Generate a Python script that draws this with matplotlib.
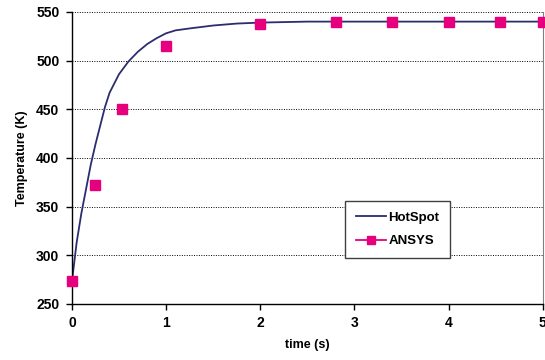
import matplotlib
matplotlib.use('Agg')
import matplotlib.pyplot as plt
from matplotlib.lines import Line2D

# HotSpot transient curve
hs_t = [0, 0.05, 0.1, 0.15, 0.2, 0.25, 0.3, 0.35, 0.4, 0.5, 0.6, 0.7, 0.8, 0.9, 1.0, 1.1, 1.25, 1.5, 1.75, 2.0, 2.5, 3, 4, 5]
hs_T = [273, 313, 343, 368, 393, 414, 433, 452, 467, 486, 499, 509, 517, 523, 528, 531, 533, 536, 538, 539, 540, 540, 540, 540]

# ANSYS points
an_t = [0, 0.25, 0.53, 1.0, 2.0, 2.8, 3.4, 4.0, 4.55, 5.0]
an_T = [273, 372, 450, 515, 538, 540, 540, 540, 540, 540]

plt.rcParams['font.family'] = ['Liberation Sans', 'DejaVu Sans']
plt.rcParams['font.weight'] = 'bold'

fig = plt.figure(figsize=(5.45, 3.6), dpi=100)
ax = fig.add_axes([0.132, 0.156, 0.864, 0.811])

ax.plot(hs_t, hs_T, color='#2b2d6e', lw=1.3, label='HotSpot')
ax.plot(an_t, an_T, color='#e6007e', marker='s', ms=7.5, ls='none',
        label='ANSYS', clip_on=False, zorder=3)

ax.set_xlim(0, 5)
ax.set_ylim(250, 550)
ax.set_xticks(range(6))
ax.set_yticks(range(250, 551, 50))
ax.yaxis.grid(True, ls=(0, (1, 1.5)), color='black', lw=0.7)
ax.set_axisbelow(True)

for s in ['left', 'bottom']:
    ax.spines[s].set_color('black')
    ax.spines[s].set_linewidth(1.0)
ax.spines['right'].set_color('#808080')
ax.spines['top'].set_visible(False)

ax.tick_params(direction='out', length=4, width=1, labelsize=10, pad=5)
for lbl in ax.get_xticklabels() + ax.get_yticklabels():
    lbl.set_fontweight('bold')

ax.set_xlabel('time (s)', fontsize=9, fontweight='bold', labelpad=6)
ax.set_ylabel('Temperature (K)', fontsize=9, fontweight='bold', labelpad=6)

handles = [Line2D([], [], color='#2b2d6e', lw=1.3),
           Line2D([], [], color='#e6007e', lw=1.3, marker='s', ms=6)]
leg = ax.legend(handles, ['HotSpot', 'ANSYS'], loc='lower left',
                bbox_to_anchor=(0.58, 0.158), borderaxespad=0, fontsize=9.5,
                fancybox=False, framealpha=1, edgecolor='#404040', borderpad=0.8,
                labelspacing=0.85, handlelength=2.3, handletextpad=0.2)
leg.get_frame().set_linewidth(1.0)
for t in leg.get_texts():
    t.set_fontweight('bold')

fig.savefig('out.png', dpi=100)
